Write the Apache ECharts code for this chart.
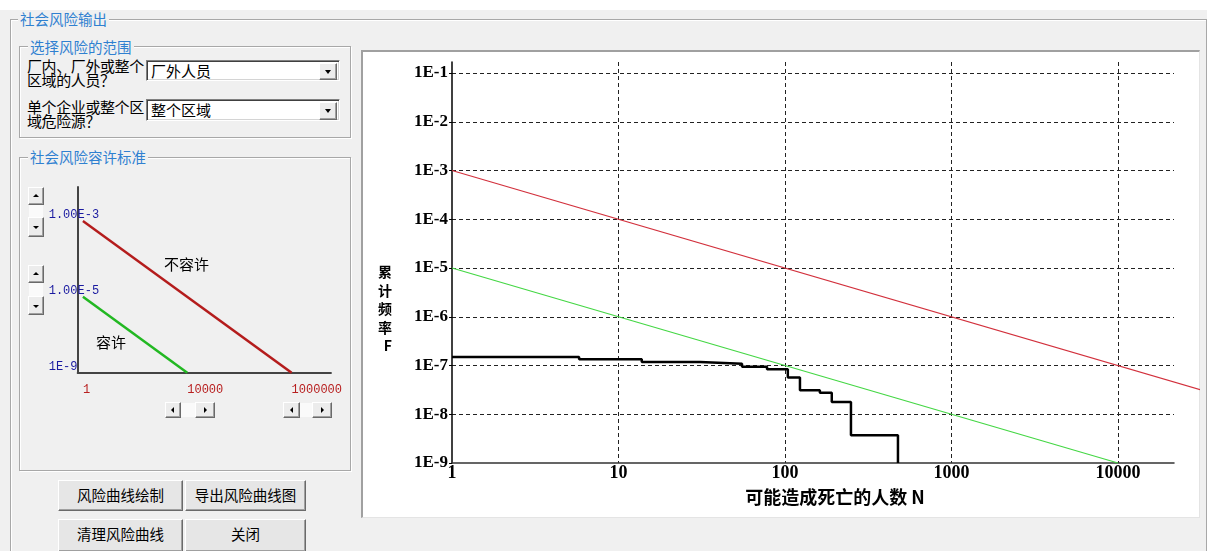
<!DOCTYPE html>
<html><head><meta charset="utf-8">
<script src="https://cdn.jsdelivr.net/npm/echarts@6/dist/echarts.min.js"></script>
<style>
html,body{margin:0;padding:0;}
body{width:1207px;height:551px;background:#f0f0f0;position:relative;overflow:hidden;font-family:"Noto Sans CJK SC",sans-serif;}
.a{position:absolute;}
.gb{position:absolute;border:1px solid #a8a8a8;box-shadow:inset 1px 1px 0 #fff,1px 1px 0 #fff;}
.gt{position:absolute;color:#2f80d0;font-size:14.5px;line-height:16px;background:#f0f0f0;padding:0 2px;white-space:nowrap;}
.lbl{position:absolute;font-size:15px;line-height:14px;color:#000;white-space:nowrap;letter-spacing:-0.4px;}
.combo{position:absolute;background:#fff;border-top:1px solid #808080;border-left:1px solid #808080;border-right:1px solid #fff;border-bottom:1px solid #fff;box-shadow:inset 1px 1px 0 #404040,inset -1px -1px 0 #d4d4d4;box-sizing:border-box;}
.ctext{position:absolute;left:4px;top:1px;font-size:15px;line-height:18px;color:#000;white-space:nowrap;}
.r3{position:absolute;background:#ececec;border-top:1px solid #fff;border-left:1px solid #fff;border-right:1px solid #6a6a6a;border-bottom:1px solid #6a6a6a;box-shadow:inset -1px -1px 0 #a0a0a0;box-sizing:border-box;}
.tri-d{position:absolute;left:50%;top:50%;margin-left:-3.5px;margin-top:-2px;width:0;height:0;border-left:3.5px solid transparent;border-right:3.5px solid transparent;border-top:4px solid #000;}
.tri-u{position:absolute;left:50%;top:50%;margin-left:-3px;margin-top:-2px;width:0;height:0;border-left:3px solid transparent;border-right:3px solid transparent;border-bottom:3px solid #000;}
.tri-dd{position:absolute;left:50%;top:50%;margin-left:-3px;margin-top:-1px;width:0;height:0;border-left:3px solid transparent;border-right:3px solid transparent;border-top:3px solid #000;}
.tri-l{position:absolute;left:50%;top:50%;margin-left:-2px;margin-top:-3px;width:0;height:0;border-top:3px solid transparent;border-bottom:3px solid transparent;border-right:3px solid #000;}
.tri-r{position:absolute;left:50%;top:50%;margin-left:-1px;margin-top:-3px;width:0;height:0;border-top:3px solid transparent;border-bottom:3px solid transparent;border-left:3px solid #000;}
.wbox{position:absolute;background:#fafafa;}
.btn{position:absolute;background:#e6e6e6;border-top:1px solid #fff;border-left:1px solid #fff;border-right:1px solid #6a6a6a;border-bottom:1px solid #6a6a6a;box-shadow:inset -1px -1px 0 #a0a0a0;box-sizing:border-box;font-size:14.5px;color:#000;text-align:center;line-height:28px;white-space:nowrap;}
.txt{position:absolute;font-size:15px;color:#000;white-space:nowrap;line-height:16px;}
</style></head>
<body>
<div class="a" style="left:0;top:0;width:1207px;height:10px;background:#fff"></div>
<!-- outer group -->
<div class="gb" style="left:10px;top:19px;width:1195px;height:620px"></div>
<div class="gt" style="left:18px;top:11px">社会风险输出</div>
<!-- group 1 -->
<div class="gb" style="left:19px;top:46px;width:330px;height:90px"></div>
<div class="gt" style="left:28px;top:39px">选择风险的范围</div>
<div class="lbl" style="left:27px;top:59px">厂内、厂外或整个<br>区域的人员？</div>
<div class="combo" style="left:146px;top:60px;width:194px;height:21px"><div class="ctext">厂外人员</div>
 <div class="r3" style="left:172px;top:2px;width:18px;height:17px"><i class="tri-d"></i></div></div>
<div class="lbl" style="left:27px;top:100px">单个企业或整个区<br>域危险源？</div>
<div class="combo" style="left:146px;top:99px;width:194px;height:22px"><div class="ctext">整个区域</div>
 <div class="r3" style="left:172px;top:2px;width:18px;height:18px"><i class="tri-d"></i></div></div>
<!-- group 2 -->
<div class="gb" style="left:19px;top:157px;width:330px;height:312px"></div>
<div class="gt" style="left:28px;top:149px">社会风险容许标准</div>
<div id="mini" class="a" style="left:20px;top:175px;width:325px;height:240px"></div>
<div class="txt" style="left:164px;top:256px">不容许</div>
<div class="txt" style="left:96px;top:334px">容许</div>
<!-- spinners -->
<div class="r3" style="left:28px;top:187px;width:16px;height:18px"><i class="tri-u"></i></div>
<div class="wbox" style="left:29px;top:205px;width:14px;height:12px"></div>
<div class="r3" style="left:28px;top:217px;width:16px;height:20px"><i class="tri-dd"></i></div>
<div class="r3" style="left:28px;top:265px;width:16px;height:18px"><i class="tri-u"></i></div>
<div class="wbox" style="left:29px;top:283px;width:14px;height:13px"></div>
<div class="r3" style="left:28px;top:296px;width:16px;height:19px"><i class="tri-dd"></i></div>
<!-- scrollbars -->
<div class="r3" style="left:165px;top:402px;width:16px;height:16px"><i class="tri-l"></i></div>
<div class="wbox" style="left:181px;top:403px;width:14px;height:14px"></div>
<div class="r3" style="left:195px;top:402px;width:20px;height:16px"><i class="tri-r"></i></div>
<div class="r3" style="left:283px;top:402px;width:17px;height:16px"><i class="tri-l"></i></div>
<div class="wbox" style="left:300px;top:403px;width:12px;height:14px"></div>
<div class="r3" style="left:312px;top:402px;width:20px;height:16px"><i class="tri-r"></i></div>
<!-- buttons -->
<div class="btn" style="left:58px;top:480px;width:125px;height:31px">风险曲线绘制</div>
<div class="btn" style="left:185px;top:480px;width:121px;height:31px">导出风险曲线图</div>
<div class="btn" style="left:58px;top:519px;width:125px;height:33px">清理风险曲线</div>
<div class="btn" style="left:185px;top:519px;width:121px;height:33px">关闭</div>
<!-- chart panel -->
<div class="a" style="left:361px;top:50px;width:839px;height:468px;background:#fff;border-top:2px solid #a0a0a0;border-left:2px solid #a0a0a0;border-right:1px solid #e4e4e4;border-bottom:1px solid #e4e4e4;box-sizing:border-box"></div>
<div id="main" class="a" style="left:362px;top:51px;width:838px;height:467px"></div>
<script>
// ---- main chart data ----
const xTickLabels = ['1', '10', '100', '1000', '10000'];          // N = 10^0 .. 10^4
const yTickLabels = ['1E-9', '1E-8', '1E-7', '1E-6', '1E-5', '1E-4', '1E-3', '1E-2', '1E-1']; // F = 10^-9 .. 10^-1
const fnN = [1, 5.8, 13.8, 30.9, 55.2, 78, 104, 123, 162, 191, 249, 477, 477];
const fnF = [1.49e-7, 1.35e-7, 1.18e-7, 1.09e-7, 9.4e-8, 8.35e-8, 5.65e-8, 3.1e-8, 2.75e-8, 1.78e-8, 3.7e-9, 3.7e-9, 1e-9];
const upperN = [1, 100000];
const upperF = [1e-3, 1e-8];
const lowerN = [1, 10000];
const lowerF = [1e-5, 1e-9];
const xName = '可能造成死亡的人数 N';
const yName = '累计频率F';
// ---- mini criterion diagram (schematic positions 0,1,2) ----
const miniXLabels = ['1', '10000', '1000000'];
const miniYLabels = ['1E-9', '1.00E-5', '1.00E-3'];
const miniUpperX = [0, 2];
const miniUpperY = [2, 0];
const miniLowerX = [0, 1];
const miniLowerY = [1, 0];

const zip = (a, b) => a.map((v, i) => [v, b[i]]);
const serif = 'Liberation Serif';

// plot geometry
const plotW = 722, plotH = 401, xMax = 21700, yMin = 1e-9, yMax = 0.1683;
const pxPerDecade = plotW / Math.log10(xMax);
const extW = 748; // upper criterion line runs on to the panel edge
const xMaxExt = Math.pow(10, extW / pxPerDecade);

const main = echarts.init(document.getElementById('main'), null, {renderer: 'canvas'});
main.setOption({
  animation: false,
  grid: [
    {left: 90, top: 11, width: plotW, height: plotH, containLabel: false},
    {left: 90, top: 11, width: extW, height: plotH, containLabel: false}
  ],
  xAxis: [{
    type: 'log', logBase: 10, min: 1, max: xMax, gridIndex: 0,
    name: xName, nameLocation: 'middle', nameGap: 25,
    nameTextStyle: {fontFamily: 'Noto Sans CJK SC', fontWeight: 'bold', fontSize: 18, lineHeight: 18, color: '#000', padding: [0, 0, 0, 44]},
    axisLine: {show: true, lineStyle: {color: '#333', width: 1.5}},
    axisTick: {show: false},
    axisLabel: {
      show: true, margin: 1, showMaxLabel: false, color: '#000',
      fontFamily: serif, fontWeight: 'bold', fontSize: 18,
      formatter: v => { const l = Math.log10(v), i = Math.round(l); return Math.abs(l - i) < 0.01 ? (xTickLabels[i] || '') : ''; }
    },
    splitLine: {show: true, showMinLine: false, showMaxLine: false, lineStyle: {color: '#222', width: 1, type: [4, 3]}}
  }, {
    type: 'log', logBase: 10, min: 1, max: xMaxExt, gridIndex: 1, show: false
  }],
  yAxis: [{
    type: 'log', logBase: 10, min: yMin, max: yMax, gridIndex: 0,
    name: yName.split('').join('\n'), nameLocation: 'middle', nameRotate: 0, nameGap: 60,
    nameTextStyle: {fontFamily: 'Noto Sans CJK SC', fontWeight: 'bold', fontSize: 14, lineHeight: 18.5, color: '#000', verticalAlign: 'top'},
    axisLine: {show: true, lineStyle: {color: '#000', width: 1.5}},
    axisTick: {show: true, length: 3, lineStyle: {color: '#000'}},
    axisLabel: {
      show: true, margin: 4, showMaxLabel: false, color: '#000',
      fontFamily: serif, fontWeight: 'bold', fontSize: 17,
      formatter: v => { const l = Math.log10(v), i = Math.round(l); return Math.abs(l - i) < 0.01 ? (yTickLabels[i + 9] || '') : ''; }
    },
    splitLine: {show: true, showMinLine: false, showMaxLine: false, lineStyle: {color: '#222', width: 1, type: [4, 3]}}
  }, {
    type: 'log', logBase: 10, min: yMin, max: yMax, gridIndex: 1, show: false
  }],
  series: [
    {type: 'line', xAxisIndex: 1, yAxisIndex: 1, data: zip(upperN, upperF), symbol: 'none', lineStyle: {color: '#d2303c', width: 1.2}, z: 3},
    {type: 'line', data: zip(lowerN, lowerF), clip: false, symbol: 'none', lineStyle: {color: '#44d744', width: 1.2}, z: 3},
    {type: 'line', data: zip(fnN, fnF), step: 'end', symbol: 'none', lineStyle: {color: '#000', width: 2.5}, z: 4}
  ]
});

const mini = echarts.init(document.getElementById('mini'), null, {renderer: 'canvas'});
mini.setOption({
  animation: false,
  grid: {left: 57.7, top: 12, width: 253.3, height: 185.7, containLabel: false},
  xAxis: {
    type: 'value', min: -0.05, max: 2.377,
    axisLine: {show: true, onZero: false, lineStyle: {color: '#444', width: 2}},
    axisTick: {show: false}, splitLine: {show: false},
    axisLabel: {show: true, customValues: [0, 1, 2], align: 'left', margin: 11, color: '#b82020',
      fontFamily: 'Liberation Mono', fontSize: 12, formatter: v => miniXLabels[Math.round(v)]}
  },
  yAxis: {
    type: 'value', min: 0, max: 2.448,
    axisLine: {show: true, onZero: false, lineStyle: {color: '#444', width: 2}},
    axisTick: {show: false}, splitLine: {show: false},
    axisLabel: {show: true, customValues: [0, 1, 2], align: 'left', verticalAlign: 'bottom', lineHeight: 12, margin: 29, color: '#1a1aa0',
      fontFamily: 'Liberation Mono', fontSize: 12, formatter: v => miniYLabels[Math.round(v)]}
  },
  series: [
    {type: 'line', data: zip(miniUpperX, miniUpperY), symbol: 'none', lineStyle: {color: '#b41c1c', width: 2.5}},
    {type: 'line', data: zip(miniLowerX, miniLowerY), symbol: 'none', lineStyle: {color: '#22b822', width: 2.5}}
  ]
});
</script>
</body></html>
